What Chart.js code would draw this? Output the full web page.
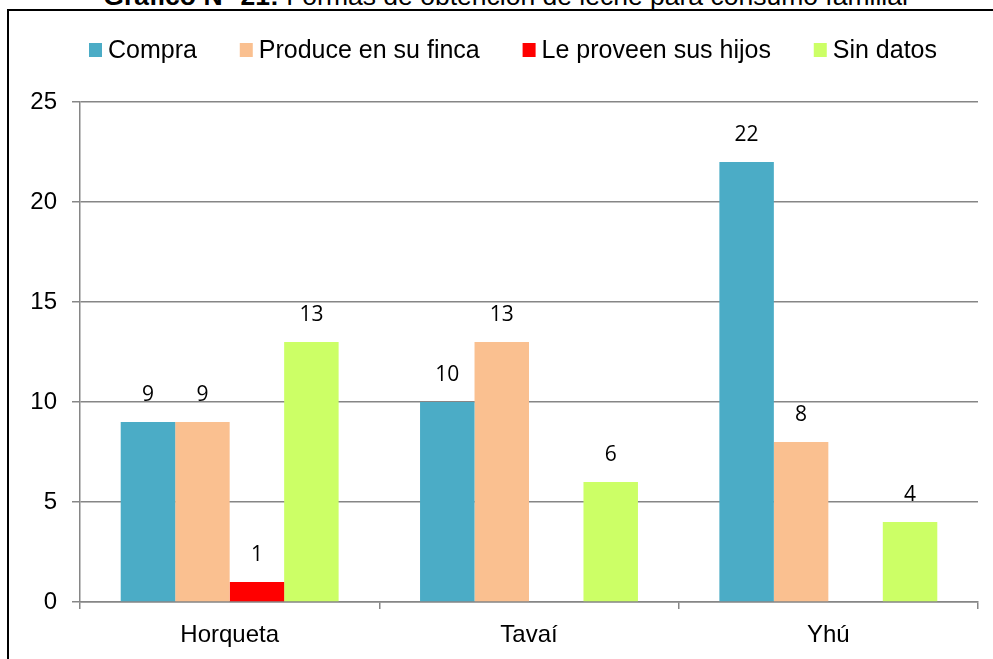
<!DOCTYPE html>
<html>
<head>
<meta charset="utf-8">
<script src="https://cdn.jsdelivr.net/npm/chart.js@4/dist/chart.umd.min.js"></script>
<style>
  html, body { margin: 0; padding: 0; background: #fff; overflow: hidden; }
  #wrap { position: relative; width: 993px; height: 659px; }
  #marco { position: absolute; left: 7px; top: 9px; width: 1100px; height: 800px; border: 2px solid #000; }
  #titulo { position: absolute; left: 0; width: 1014px; top: -17px; text-align: center;
            font: 26.5px "Liberation Sans", Arial, sans-serif; line-height: 26px; white-space: nowrap; color: #000; }
  #grafico { position: absolute; left: 0; top: 0; }
</style>
</head>
<body>
<div id="wrap">
  <div id="marco"></div>
  <div id="titulo"><b>Gráfico N° 21:</b> Formas de obtención de leche  para consumo familiar</div>
  <canvas id="grafico" width="993" height="659"></canvas>
</div>
<script>
// Datos
const localidades = ['Horqueta', 'Tavaí', 'Yhú'];
const compra = [9, 10, 22];
const produceFinca = [9, 13, 8];
const proveenHijos = [1, 0, 0];
const sinDatos = [13, 6, 4];
const ticksY = [0, 5, 10, 15, 20, 25];

const FUENTE = '"Liberation Sans", Arial, sans-serif';

// etiquetas de valor arriba de cada barra (no se muestran los ceros)
const etiquetasValor = {
    id: 'etiquetasValor',
    afterDatasetsDraw(chart) {
        const ctx = chart.ctx;
        ctx.save();
        ctx.font = '21px "Open Sans", "Noto Sans", sans-serif';
        ctx.fillStyle = '#000';
        ctx.textAlign = 'center';
        ctx.textBaseline = 'middle';
        chart.data.datasets.forEach((ds, i) => {
            const meta = chart.getDatasetMeta(i);
            meta.data.forEach((bar, j) => {
                const v = ds.data[j];
                if (!v) return;
                ctx.fillText(String(v), bar.x, bar.y - 27);
            });
        });
        ctx.restore();
    }
};

// leyenda propia, para acercar el cuadro al texto como en el original
const leyenda = {
    id: 'leyenda',
    afterDraw(chart) {
        const ctx = chart.ctx;
        const caja = 13, sep = 6, x0 = 89, x1 = 937, yc = 50;
        ctx.save();
        ctx.font = '25px ' + FUENTE;
        ctx.textBaseline = 'middle';
        ctx.textAlign = 'left';
        const items = chart.data.datasets.map(ds => ({
            texto: ds.label, color: ds.backgroundColor, w: ctx.measureText(ds.label).width
        }));
        const total = items.reduce((a, it) => a + caja + sep + it.w, 0);
        const hueco = (x1 - x0 - total) / (items.length - 1);
        let x = x0;
        items.forEach(it => {
            ctx.fillStyle = it.color;
            ctx.fillRect(x, yc - 7, caja, caja + 1);
            ctx.fillStyle = '#000';
            ctx.fillText(it.texto, x + caja + sep, yc + 1);
            x += caja + sep + it.w + hueco;
        });
        ctx.restore();
    }
};

new Chart(document.getElementById('grafico'), {
    type: 'bar',
    data: {
        labels: localidades,
        datasets: [
            { label: 'Compra', data: compra, backgroundColor: '#4BACC6' },
            { label: 'Produce en su finca', data: produceFinca, backgroundColor: '#FAC090' },
            { label: 'Le proveen sus hijos', data: proveenHijos, backgroundColor: '#FF0000' },
            { label: 'Sin datos', data: sinDatos, backgroundColor: '#CCFF66' }
        ]
    },
    options: {
        responsive: false,
        animation: false,
        devicePixelRatio: 1,
        layout: { padding: { top: 102, right: 15, left: 0, bottom: 0 } },
        datasets: { bar: { barPercentage: 1, categoryPercentage: 0.728, borderWidth: 0 } },
        plugins: {
            legend: { display: false },
            tooltip: { enabled: false }
        },
        scales: {
            x: {
                grid: { drawOnChartArea: false, drawTicks: true, tickLength: 7, color: '#868686', lineWidth: 1.5 },
                border: { color: '#868686', width: 1.5 },
                ticks: { color: '#000', padding: 12, font: { family: FUENTE, size: 24 } },
                afterFit: s => { s.height = 57; }
            },
            y: {
                min: 0, max: 25,
                afterBuildTicks: s => { s.ticks = ticksY.map(v => ({ value: v })); },
                grid: { color: '#868686', lineWidth: 1.5, tickLength: 8 },
                border: { color: '#868686', width: 1.5 },
                ticks: { color: '#000', padding: 15, font: { family: FUENTE, size: 24 } },
                afterFit: s => { s.width = 80; }
            }
        }
    },
    plugins: [etiquetasValor, leyenda]
});
</script>
</body>
</html>
